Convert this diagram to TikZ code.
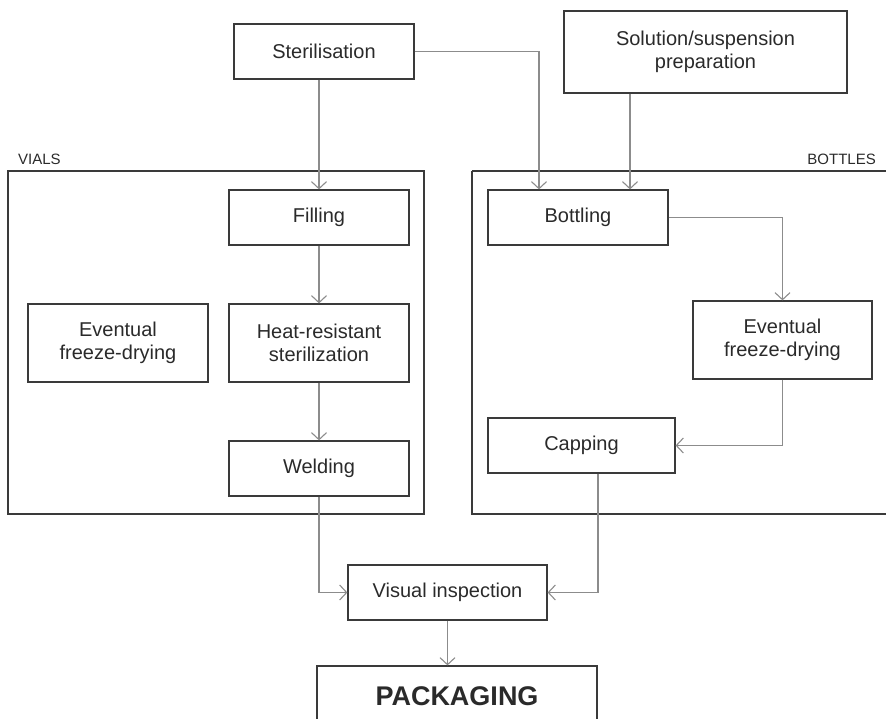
\documentclass[tikz,border=0pt]{standalone}
\usepackage{fontspec}
\setmainfont{Liberation Sans}
\usetikzlibrary{arrows.meta, positioning}

\definecolor{boxline}{HTML}{3A3A3A}
\definecolor{flowline}{HTML}{8C8C8C}
\definecolor{txt}{HTML}{2A2A2A}

\begin{document}
\begin{tikzpicture}[x=1pt, y=-1pt,
    stage/.style={draw=boxline, line width=1.2pt, rectangle, inner sep=0pt,
        minimum width=180pt, minimum height=55pt, align=center, text=txt,
        font=\fontsize{20}{23}\selectfont},
    tallstage/.style={stage, minimum height=78pt},
    group/.style={draw=boxline, line width=1.2pt},
    grouplabel/.style={text=txt, inner sep=0pt, font=\fontsize{15}{18}\selectfont},
    flow/.style={draw=flowline, line width=1.1pt,
        -{Straight Barb[length=7pt, width=15pt, line width=1.1pt]}}]
\useasboundingbox (0,0) rectangle (886,719);

% groups
\draw[group] (8,171) rectangle (424,514);
\draw[group] (472,171) -- (900,171);
\draw[group] (472,171) -- (472,514) -- (900,514);
\node[grouplabel, anchor=base west] (vialslabel) at (18,165) {VIALS};
\node[grouplabel, anchor=base east] (bottleslabel) at (876,165) {BOTTLES};

% stages
\node[stage] (steril) at (324,51.5) {Sterilisation};
\node[stage, minimum width=283pt, minimum height=82pt] (solution) at (705.5,52) {Solution/suspension\\preparation};
\node[stage] (filling) at (319,217.5) {Filling};
\node[tallstage] (freezeL) at (118,343) {Eventual\\freeze-drying};
\node[tallstage] (heat) at (319,343) {Heat-resistant\\sterilization};
\node[stage] (welding) at (319,468.5) {Welding};
\node[stage] (bottling) at (578,217.5) {Bottling};
\node[tallstage, minimum width=179pt] (freezeR) at (782.5,340) {Eventual\\freeze-drying};
\node[stage, minimum width=187pt] (capping) at (581.5,445.5) {Capping};
\node[stage, minimum width=199pt] (visual) at (447.5,592.5) {Visual inspection};
\node[stage, minimum width=280pt, minimum height=60pt, font=\fontsize{27}{30}\selectfont\bfseries] (packaging) at (457,696) {PACKAGING};

% flows
\draw[flow] (filling.north |- steril.south) -- (filling.north);
\draw[flow] (steril.east) -| ([xshift=-39pt]bottling.north);
\draw[flow] ([xshift=-75.5pt]solution.south) -- ([xshift=52pt]bottling.north);
\draw[flow] (filling) -- (heat);
\draw[flow] (heat) -- (welding);
\draw[flow] (bottling.east) -| (freezeR.north);
\draw[flow] (freezeR.south) |- (capping.east);
\draw[flow] (welding.south) |- (visual.west);
\draw[flow] ([xshift=16.5pt]capping.south) |- (visual.east);
\draw[flow] (visual.south) -- (visual.south |- packaging.north);
\end{tikzpicture}
\end{document}
